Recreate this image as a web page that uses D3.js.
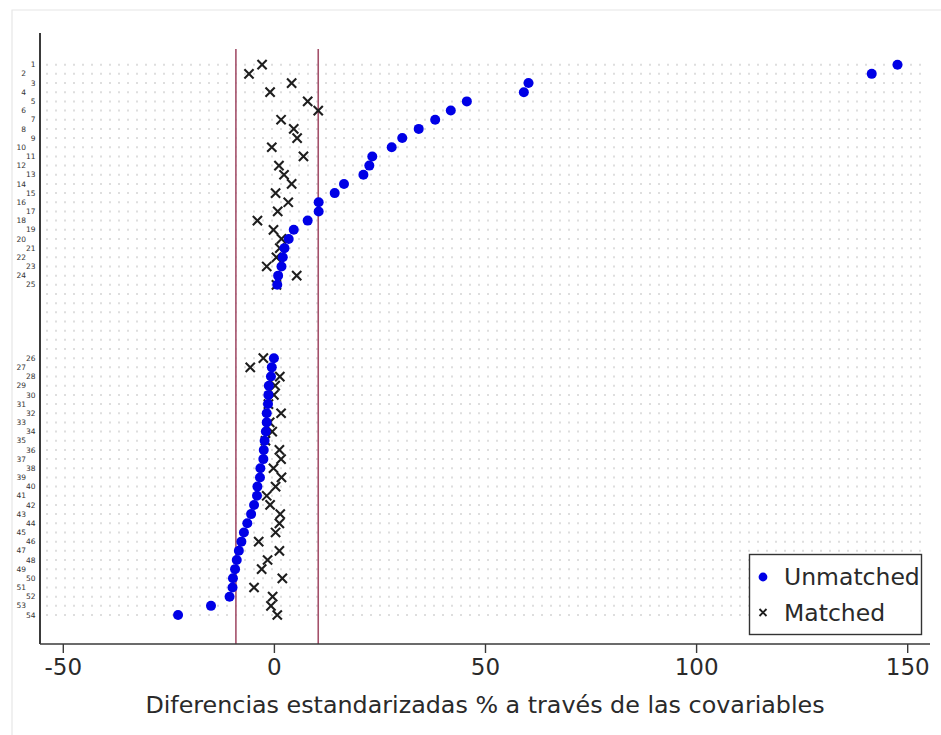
<!DOCTYPE html>
<html>
<head>
<meta charset="utf-8">
<script src="https://cdn.jsdelivr.net/npm/d3@7"></script>
<style>
  html, body { margin: 0; padding: 0; background: #fff; }
  svg { display: block; font-family: "DejaVu Sans", sans-serif; }
</style>
</head>
<body>
<svg id="chart" width="941" height="735"></svg>
<script>
// Covariate labels (1..54), in two blocks separated by a gap
const covariates = d3.range(1, 55).map(String);
const firstBlockSize = 25;
const gapRows = 7;

// Standardized % differences before matching
const unmatched = [
  147.7, 141.6, 60.3, 59.2, 45.7, 41.9, 38.2, 34.3, 30.4, 27.9,
  23.3, 22.6, 21.2, 16.6, 14.4, 10.6, 10.6, 8.0, 4.7, 3.5,
  2.5, 2.1, 1.8, 1.0, 0.8,
  0.0, -0.5, -0.7, -1.2, -1.3, -1.4, -1.7, -1.7, -1.9, -2.2,
  -2.4, -2.5, -3.2, -3.3, -3.9, -4.0, -4.7, -5.4, -6.3, -7.1,
  -7.7, -8.3, -8.8, -9.2, -9.7, -9.8, -10.5, -14.9, -22.7
];

// Standardized % differences after matching
const matched = [
  -2.8, -5.9, 4.2, -0.9, 8.0, 10.5, 1.7, 4.7, 5.5, -0.5,
  7.0, 1.2, 2.4, 4.2, 0.4, 3.4, 0.9, -3.9, -0.1, 1.8,
  1.4, 0.6, -1.7, 5.4, 0.6,
  -2.5, -5.6, 1.4, 0.3, 0.0, -1.3, 1.7, -1.0, -0.4, -2.0,
  1.3, 1.7, -0.1, 1.8, 0.4, -1.7, -0.9, 1.5, 1.3, 0.4,
  -3.6, 1.3, -1.5, -2.9, 2.0, -4.7, -0.3, -0.7, 0.8
];

// Reference band limits
const thresholds = [-9.0, 10.5];

const xTicks = [-50, 0, 50, 100, 150];
const xDomain = [-55.4, 155.4];
const xTitle = "Diferencias estandarizadas % a través de las covariables";
const legendItems = ["Unmatched", "Matched"];

const svg = d3.select("#chart");

// row slot for each covariate (second block shifted past the gap)
const slot = i => (i < firstBlockSize ? i : i + gapRows);
const totalSlots = covariates.length + gapRows;

const x = d3.scaleLinear().domain(xDomain).range([40, 930]);
const y = d3.scaleLinear().domain([-3.456, 63.16]).range([33, 644]);

// outer frame
svg.append("path")
  .attr("d", "M12,735 L12,10 L941,10")
  .attr("fill", "none")
  .attr("stroke", "#e6e6e6")
  .attr("stroke-width", 1.2);

// dotted row guides
svg.append("g")
  .selectAll("line")
  .data(d3.range(totalSlots))
  .join("line")
  .attr("x1", 46).attr("x2", 928)
  .attr("y1", d => y(d)).attr("y2", d => y(d))
  .attr("stroke", "#dedede")
  .attr("stroke-width", 2)
  .attr("stroke-dasharray", "2,7");

// threshold lines
svg.append("g")
  .selectAll("line")
  .data(thresholds)
  .join("line")
  .attr("x1", d => x(d)).attr("x2", d => x(d))
  .attr("y1", 49).attr("y2", 644)
  .attr("stroke", "#a4506a")
  .attr("stroke-width", 1.6);

// x axis
const xAxis = d3.axisBottom(x).tickValues(xTicks).tickSize(9).tickPadding(6)
  .tickFormat(d => String(d));
const gx = svg.append("g").attr("transform", "translate(0,644)").call(xAxis);
gx.select(".domain").attr("stroke", "#3a3a3a").attr("stroke-width", 1.6)
  .attr("d", "M40,0H930");
gx.selectAll(".tick line").attr("stroke", "#3a3a3a").attr("stroke-width", 1.4);
gx.selectAll(".tick text")
  .attr("fill", "#2a2a2a")
  .style("font-family", "DejaVu Sans, sans-serif")
  .style("font-size", "23px");

// y axis line
svg.append("line")
  .attr("x1", 40).attr("x2", 40)
  .attr("y1", 33).attr("y2", 644)
  .attr("stroke", "#3a3a3a")
  .attr("stroke-width", 2);

// staggered covariate labels
svg.append("g")
  .selectAll("text")
  .data(covariates)
  .join("text")
  .attr("x", (d, i) => (slot(i) % 2 === 0 ? 35.5 : 26))
  .attr("y", (d, i) => y(slot(i)))
  .attr("dy", "0.35em")
  .attr("text-anchor", "end")
  .attr("fill", "#333")
  .style("font-size", "7.5px")
  .text(d => d);

// matched markers (crosses)
const s = 4.6;
svg.append("g")
  .selectAll("path")
  .data(matched)
  .join("path")
  .attr("d", (d, i) => {
    const cx = x(d), cy = y(slot(i));
    return `M${cx - s},${cy - s}L${cx + s},${cy + s}M${cx - s},${cy + s}L${cx + s},${cy - s}`;
  })
  .attr("stroke", "#1e1e1e")
  .attr("stroke-width", 2.1)
  .attr("fill", "none");

// unmatched markers (circles)
svg.append("g")
  .selectAll("circle")
  .data(unmatched)
  .join("circle")
  .attr("cx", d => x(d))
  .attr("cy", (d, i) => y(slot(i)))
  .attr("r", 5)
  .attr("fill", "#0000e6");

// x axis title
svg.append("text")
  .attr("x", 485).attr("y", 713)
  .attr("text-anchor", "middle")
  .attr("fill", "#2a2a2a")
  .style("font-size", "23.8px")
  .text(xTitle);

// legend
const lg = svg.append("g");
lg.append("rect")
  .attr("x", 749.5).attr("y", 554.5)
  .attr("width", 172).attr("height", 80)
  .attr("fill", "#fff")
  .attr("stroke", "#333")
  .attr("stroke-width", 1.4);
lg.append("circle").attr("cx", 763).attr("cy", 577).attr("r", 4.4).attr("fill", "#0000e6");
lg.append("path")
  .attr("d", "M759.5,609L766.5,616M759.5,616L766.5,609")
  .attr("stroke", "#1e1e1e").attr("stroke-width", 1.9);
lg.selectAll("text")
  .data(legendItems)
  .join("text")
  .attr("x", 784)
  .attr("y", (d, i) => 577 + i * 35.5)
  .attr("dy", "0.36em")
  .attr("fill", "#2a2a2a")
  .style("font-size", "23.5px")
  .text(d => d);
</script>
</body>
</html>
